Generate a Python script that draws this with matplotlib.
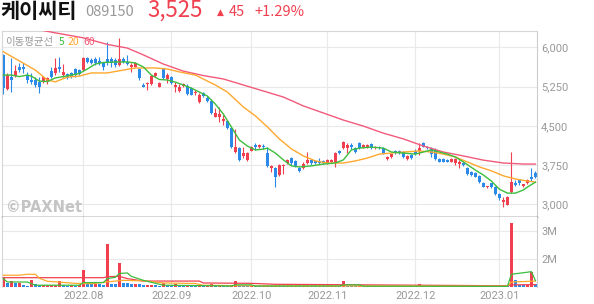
import matplotlib
matplotlib.use('Agg')
import matplotlib.pyplot as plt
import numpy as np
from matplotlib.ticker import FuncFormatter

# Daily candles, 2022-07-04 .. 2023-01-13 (index = trading day)
opens = [5850, 5200, 5430, 5450, 5625, 5620, 5470, 5375, 5375, 5340,
         5340, 5330, 5545, 5510, 5625, 5470, 5490, 5510, 5585, 5565,
         5565, 5795, 5760, 5775, 5740, 5700, 5775, 5775, 5760, 5660,
         5775, 5720, 5620, 5625, 5585, 5280, 5300, 5300, 5450, 5240,
         5585, 5395, 5430, 5240, 5165, 5260, 5260, 5220, 5125, 4955,
         5125, 5030, 4975, 4670, 4670, 4590, 4590, 4460, 4000, 4075,
         3925, 3850, 4020, 4135, 4095, 4115, 3980, 3695, 3695, 3560,
         3735, 3790, 3885, 3830, 3695, 3695, 3790, 3845, 3830, 3830,
         3830, 3790, 3810, 3790, 4020, 4075, 4075, 4135, 4075, 4170,
         4095, 4095, 4150, 4080, 4095, 4075, 3865, 3905, 4020, 4020,
         4000, 3865, 3945, 4020, 4020, 4170, 4095, 4075, 4040, 3865,
         3865, 3845, 3810, 3790, 3770, 3790, 3695, 3620, 3600, 3540,
         3410, 3330, 3410, 3330, 3200, 3045, 2990, 3235, 3410, 3465,
         3350, 3410, 3525, 3600]
highs = [5870, 5500, 5795, 5660, 5700, 5700, 5530, 5510, 5430, 5430,
         5450, 5440, 5620, 5795, 5815, 5680, 5510, 5530, 5605, 5590,
         5815, 5815, 5795, 5815, 5815, 5720, 6100, 5815, 5795, 6180,
         5815, 5850, 5700, 5720, 5605, 5320, 5340, 5470, 5530, 5340,
         5605, 5510, 5450, 5340, 5300, 5320, 5300, 5240, 5185, 5125,
         5145, 5070, 5010, 4840, 4860, 4705, 4610, 4480, 4440, 4095,
         4095, 4000, 4115, 4170, 4150, 4150, 4095, 3750, 3715, 3770,
         3775, 3865, 3905, 3845, 3715, 3810, 4000, 3865, 3845, 3885,
         3845, 3860, 3860, 4000, 4040, 4210, 4170, 4170, 4095, 4190,
         4150, 4150, 4170, 4115, 4115, 4095, 3925, 3970, 4040, 4040,
         4020, 3945, 3960, 4060, 4170, 4190, 4115, 4095, 4075, 3885,
         3885, 3865, 3880, 3885, 3845, 3810, 3715, 3640, 3620, 3560,
         3430, 3360, 3410, 3350, 3215, 3140, 3160, 4000, 3465, 3485,
         3390, 3485, 3695, 3640]
lows = [5110, 5185, 5145, 5430, 5530, 5510, 5320, 5300, 5240, 5125,
        5320, 5300, 5410, 5470, 5530, 5430, 5395, 5410, 5430, 5470,
        5545, 5700, 5680, 5660, 5660, 5565, 5660, 5625, 5625, 5640,
        5700, 5660, 5530, 5620, 5375, 5240, 5185, 5280, 5430, 5240,
        5395, 5320, 5300, 5145, 5145, 5240, 5090, 5080, 5090, 4935,
        5050, 4955, 4725, 4670, 4575, 4515, 4440, 4075, 3980, 3830,
        3885, 3830, 4020, 4040, 4080, 4060, 3715, 3620, 3330, 3540,
        3580, 3770, 3750, 3715, 3620, 3675, 3770, 3750, 3775, 3770,
        3780, 3780, 3800, 3715, 3960, 4060, 3980, 4060, 3980, 4060,
        4080, 4080, 4060, 4060, 4060, 3960, 3845, 3890, 3970, 3960,
        3890, 3845, 3875, 3945, 3945, 4095, 4060, 3905, 3845, 3800,
        3800, 3800, 3800, 3750, 3695, 3740, 3560, 3545, 3520, 3410,
        3330, 3320, 3310, 3180, 3085, 2950, 2990, 3215, 3350, 3370,
        3340, 3390, 3445, 3500]
closes = [5220, 5470, 5375, 5545, 5565, 5590, 5375, 5340, 5280, 5240,
          5430, 5420, 5430, 5605, 5585, 5530, 5415, 5435, 5470, 5490,
          5795, 5720, 5700, 5700, 5700, 5625, 5720, 5700, 5660, 5775,
          5720, 5680, 5660, 5700, 5415, 5245, 5320, 5450, 5510, 5320,
          5415, 5470, 5320, 5280, 5240, 5300, 5110, 5090, 5145, 5090,
          5070, 4975, 4745, 4745, 4725, 4630, 4460, 4095, 4095, 3850,
          3980, 3980, 4095, 4095, 4135, 4095, 3735, 3735, 3525, 3750,
          3755, 3845, 3790, 3735, 3640, 3770, 3845, 3790, 3790, 3790,
          3790, 3845, 3845, 3980, 3980, 4190, 4135, 4095, 4000, 4075,
          4135, 4135, 4075, 4095, 4080, 3980, 3905, 3960, 3980, 3980,
          3905, 3925, 3885, 3960, 4075, 4100, 4075, 3960, 3865, 3810,
          3810, 3810, 3865, 3865, 3810, 3750, 3580, 3560, 3525, 3430,
          3330, 3350, 3330, 3200, 3120, 3080, 3140, 3425, 3370, 3410,
          3390, 3465, 3480, 3525]
# volume in millions of shares
volumes = [0.49, 0.23, 0.32, 0.22, 0.24, 0.10, 0.09, 0.37, 0.16, 0.10,
           0.11, 0.12, 0.13, 0.14, 0.34, 0.10, 0.09, 0.10, 0.09, 0.10,
           0.92, 0.16, 0.15, 0.16, 0.15, 0.14, 2.29, 0.16, 0.15, 1.30,
           0.23, 0.22, 0.17, 0.18, 0.16, 0.10, 0.11, 0.12, 0.10, 0.09,
           0.23, 0.10, 0.09, 0.16, 0.08, 0.07, 0.08, 0.07, 0.06, 0.07,
           0.06, 0.07, 0.16, 0.07, 0.08, 0.07, 0.06, 0.07, 0.34, 0.08,
           0.07, 0.06, 0.07, 0.06, 0.05, 0.06, 0.07, 0.06, 0.07, 0.06,
           0.05, 0.06, 0.05, 0.06, 0.05, 0.06, 0.07, 0.06, 0.05, 0.06,
           0.05, 0.06, 0.07, 0.08, 0.07, 0.34, 0.08, 0.07, 0.06, 0.07,
           0.06, 0.05, 0.06, 0.05, 0.06, 0.05, 0.06, 0.05, 0.06, 0.05,
           0.06, 0.05, 0.06, 0.07, 0.16, 0.07, 0.06, 0.05, 0.06, 0.05,
           0.06, 0.05, 0.06, 0.05, 0.06, 0.05, 0.10, 0.06, 0.05, 0.10,
           0.06, 0.05, 0.06, 0.05, 0.08, 0.10, 0.09, 3.42, 0.37, 0.12,
           0.10, 0.11, 0.81, 0.16]

# moving averages (index, value)
ma5_idx = [0, 2, 4, 6, 7, 9, 11, 13, 15, 17, 19, 21, 23, 25, 28, 31, 33, 35,
           37, 39, 41, 43, 45, 47, 49, 51, 53, 55, 57, 59, 61, 63, 65, 66, 68,
           70, 72, 74, 77, 80, 83, 85, 87, 89, 92, 95, 97, 100, 103, 105, 107,
           109, 111, 113, 115, 118, 120, 122, 124, 126, 128, 130, 131, 133]
ma5_val = [5470, 5470, 5440, 5470, 5450, 5355, 5345, 5415, 5440, 5470, 5500,
           5585, 5680, 5710, 5720, 5720, 5700, 5625, 5470, 5385, 5375, 5335,
           5280, 5220, 5145, 5070, 4915, 4725, 4480, 4230, 4115, 4040, 4055,
           4075, 3980, 3850, 3735, 3715, 3735, 3770, 3790, 3850, 4040, 4075,
           4095, 4075, 4000, 3980, 3960, 4000, 4040, 4000, 3960, 3905, 3810,
           3655, 3560, 3445, 3290, 3215, 3215, 3275, 3330, 3425]
ma20_idx = [0, 4, 8, 11, 13, 16, 19, 22, 26, 30, 33, 38, 41, 44, 48, 53, 56,
            60, 63, 66, 69, 72, 75, 78, 81, 85, 88, 91, 94, 97, 100, 104, 107,
            110, 113, 116, 119, 122, 125, 128, 131, 133]
ma20_val = [5915, 5740, 5565, 5375, 5340, 5430, 5450, 5510, 5510, 5565, 5605,
            5605, 5585, 5530, 5470, 5280, 5145, 4860, 4690, 4480, 4250, 4060,
            3925, 3830, 3790, 3790, 3830, 3885, 3960, 3980, 4000, 4020, 4000,
            3960, 3905, 3810, 3715, 3640, 3545, 3485, 3445, 3425]
ma60_idx = [0, 6, 12, 20, 26, 31, 35, 40, 45, 50, 55, 60, 65, 70, 75, 80, 85,
            90, 95, 100, 105, 110, 115, 120, 125, 130, 133]
ma60_val = [6450, 6380, 6290, 6180, 6055, 5985, 5855, 5680, 5545, 5460, 5395,
            5280, 5165, 5050, 4880, 4745, 4610, 4495, 4360, 4250, 4115, 4000,
            3925, 3845, 3790, 3770, 3770]

vma5_idx = [0, 1, 6, 8, 19, 20, 25, 26, 28, 29, 31, 32, 35, 40, 57, 58, 62, 63,
            84, 85, 89, 90, 126, 127, 131, 132, 133]
vma5_val = [0.46, 0.28, 0.28, 0.11, 0.11, 0.25, 0.25, 0.46, 0.53, 0.73, 0.76,
            0.58, 0.37, 0.11, 0.07, 0.13, 0.13, 0.07, 0.07, 0.13, 0.13, 0.06,
            0.05, 0.69, 0.80, 0.83, 0.36]
vma20_idx = [0, 4, 6, 8, 9, 11, 18, 22, 25, 26, 30, 35, 40, 48, 50, 60, 126,
             127, 133]
vma20_val = [0.64, 0.64, 0.69, 0.69, 0.48, 0.32, 0.21, 0.19, 0.26, 0.29, 0.37,
             0.34, 0.23, 0.20, 0.11, 0.08, 0.06, 0.28, 0.33]
vma60_idx = [0, 25, 26, 29, 31, 35, 49, 50, 62, 68, 90, 126, 127, 133]
vma60_val = [0.51, 0.51, 0.56, 0.58, 0.46, 0.33, 0.33, 0.23, 0.21, 0.16, 0.13,
             0.08, 0.13, 0.14]

month_idx = [20, 42, 62, 81, 103, 124]
month_labels = ['2022.08', '2022.09', '2022.10', '2022.11', '2022.12', '2023.01']
price_ticks = [3000, 3750, 4500, 5250, 6000]
vol_ticks = [1.5, 3.0]

RED = '#f0404f'
BLUE = '#2b89e8'
GREEN = '#3dbd3d'
ORANGE = '#ffa82e'
PINK = '#f25a7a'
GRID = '#e9e9e9'
TICK = '#999999'
KR = ['Noto Sans CJK KR', 'DejaVu Sans']

plt.rcParams['font.family'] = ['Roboto', 'Noto Sans CJK KR', 'DejaVu Sans']

W, H = 594, 304
fig = plt.figure(figsize=(W / 100, H / 100), dpi=100)
ax = fig.add_axes([2 / W, 1 - 217 / H, 535 / W, 186 / H])
axv = fig.add_axes([2 / W, 1 - 287.3 / H, 535 / W, 70.3 / H], sharex=ax)

x = np.arange(len(closes))
o = np.array(opens)
c = np.array(closes)
up = c >= o
cols = [RED if u else BLUE for u in up]

# candles
ax.vlines(x, lows, highs, colors=cols, linewidth=0.8, zorder=2)
bottoms = np.minimum(o, c)
heights = np.maximum(np.abs(c - o), 15)
ax.bar(x, heights, width=0.68, bottom=bottoms, color=cols, linewidth=0,
       zorder=2)

ax.plot(ma60_idx, ma60_val, color=PINK, lw=1.0, zorder=3)
ax.plot(ma20_idx, ma20_val, color=ORANGE, lw=1.0, zorder=3)
ax.plot(ma5_idx, ma5_val, color=GREEN, lw=1.0, zorder=3)

ax.set_xlim(-0.325, 133.4)
ax.set_ylim(2759, 6311)
ax.set_yticks(price_ticks)
ax.yaxis.set_major_formatter(FuncFormatter(lambda v, p: f'{v:,.0f}'))
ax.yaxis.tick_right()
ax.set_xticks(month_idx)
ax.tick_params(axis='x', length=0, labelbottom=False)
ax.tick_params(axis='y', length=0, pad=3, labelsize=8, labelcolor=TICK)
ax.grid(True, color=GRID, lw=0.8, zorder=0)
ax.set_axisbelow(True)
for s in ['top', 'left']:
    ax.spines[s].set_color('#d6d6d6')
ax.spines['right'].set_color('#cccccc')
ax.spines['bottom'].set_color('#333333')
ax.spines['bottom'].set_linewidth(1.0)

# volume
vol = np.array(volumes)
vcols = [RED] + [RED if vol[i] >= vol[i - 1] else BLUE for i in range(1, len(vol))]
axv.bar(x, vol * 1e6, width=0.6, color=vcols, linewidth=0, zorder=2)
axv.plot(vma60_idx, np.array(vma60_val) * 1e6, color=RED, lw=0.9, zorder=3)
axv.plot(vma20_idx, np.array(vma20_val) * 1e6, color=ORANGE, lw=0.9, zorder=3)
axv.plot(vma5_idx, np.array(vma5_val) * 1e6, color=GREEN, lw=0.9, zorder=3)
axv.set_ylim(0, 3.725e6)
axv.set_yticks([v * 1e6 for v in vol_ticks])
axv.yaxis.set_major_formatter(FuncFormatter(lambda v, p: f'{v / 1e6:.0f}M'))
axv.yaxis.tick_right()
axv.set_xticks(month_idx)
axv.set_xticklabels(month_labels)
axv.tick_params(axis='x', length=0, pad=3, labelsize=8, labelcolor=TICK)
axv.tick_params(axis='y', length=0, pad=3, labelsize=8, labelcolor=TICK)
axv.grid(True, color=GRID, lw=0.8, zorder=0)
axv.set_axisbelow(True)
axv.spines['top'].set_visible(False)
axv.spines['bottom'].set_visible(False)
axv.spines['left'].set_color('#d6d6d6')
axv.spines['right'].set_color('#cccccc')

# header
def fx(px):
    return px / W


def fy(py):
    return 1 - py / H


fig.text(fx(0.5), fy(18), '케이씨티', family=KR, fontsize=15,
         fontweight='bold', color='#111111', va='baseline')
fig.text(fx(85), fy(16.5), '089150', family=KR, fontsize=10.5,
         color='#999999', va='baseline')
fig.text(fx(147), fy(16.5), '3,525', family=KR, fontsize=16, color=RED,
         va='baseline')
fig.text(fx(217), fy(14.5), '▲', family=['DejaVu Sans'], fontsize=6.5,
         color=RED, va='baseline')
fig.text(fx(229), fy(16.5), '45', family=KR, fontsize=10.5, color=RED,
         va='baseline')
fig.text(fx(254), fy(16.5), '+1.29%', family=KR, fontsize=10.5, color=RED,
         va='baseline')

# moving average legend
fig.text(fx(5), fy(42), '이동평균선', family=KR, fontsize=7.5,
         color='#999999', va='center')
fig.text(fx(59), fy(42), '5', family=KR, fontsize=7.5, color=GREEN,
         va='center')
fig.text(fx(68), fy(42), '20', family=KR, fontsize=7.5, color=ORANGE,
         va='center')
fig.text(fx(83), fy(42), '60', family=KR, fontsize=7.5, color=PINK,
         va='center')

# watermark
fig.text(fx(6), fy(207.5), '©PAXNet', fontsize=10.5, fontweight='bold',
         family=['DejaVu Sans'], color='#c4c4c4', va='center')

fig.savefig('out.png', dpi=100)
